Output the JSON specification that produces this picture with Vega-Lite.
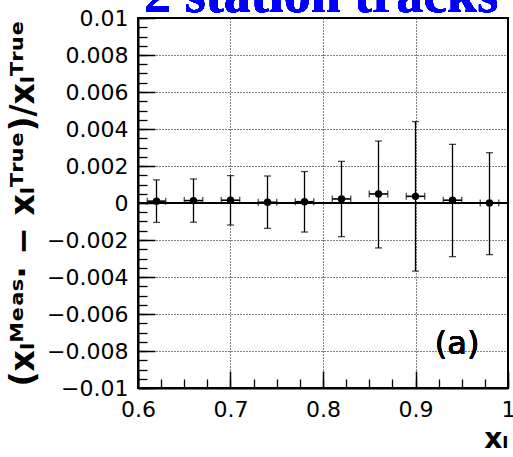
{
  "$schema": "https://vega.github.io/schema/vega-lite/v6.json",
  "width": 370,
  "height": 370,
  "autosize": "none",
  "padding": {"left": 138, "top": 18, "right": 5, "bottom": 69},
  "background": "white",
  "config": {
    "view": {"stroke": "black", "strokeWidth": 2},
    "axis": {"labelFont": "DejaVu Sans", "labelFontSize": 22, "labelColor": "black", "titleColor": "black", "tickColor": "black", "domainColor": "black"}
  },
  "data": {"values": [
    {"x": 0.62, "xlo": 0.61, "xhi": 0.63, "y": 0.0001, "lo": -0.00105, "hi": 0.00125},
    {"x": 0.66, "xlo": 0.65, "xhi": 0.67, "y": 0.00013, "lo": -0.00104, "hi": 0.0013},
    {"x": 0.70, "xlo": 0.69, "xhi": 0.71, "y": 0.00015, "lo": -0.00119, "hi": 0.00148},
    {"x": 0.74, "xlo": 0.73, "xhi": 0.75, "y": 0.00004, "lo": -0.00137, "hi": 0.00146},
    {"x": 0.78, "xlo": 0.77, "xhi": 0.79, "y": 0.00007, "lo": -0.00157, "hi": 0.0017},
    {"x": 0.82, "xlo": 0.81, "xhi": 0.83, "y": 0.00022, "lo": -0.00182, "hi": 0.00225},
    {"x": 0.86, "xlo": 0.85, "xhi": 0.87, "y": 0.00049, "lo": -0.00243, "hi": 0.00335},
    {"x": 0.90, "xlo": 0.89, "xhi": 0.91, "y": 0.00036, "lo": -0.00368, "hi": 0.0044},
    {"x": 0.94, "xlo": 0.93, "xhi": 0.95, "y": 0.00015, "lo": -0.0029, "hi": 0.00317},
    {"x": 0.98, "xlo": 0.97, "xhi": 0.99, "y": 0.0, "lo": -0.00279, "hi": 0.00272}
  ]},
  "layer": [
    {
      "mark": {"type": "rule", "color": "black", "strokeWidth": 1.3},
      "encoding": {
        "x": {"field": "x", "type": "quantitative", "scale": {"domain": [0.6, 1.0], "nice": false, "zero": false},
          "axis": {"orient": "bottom", "values": [0.6,0.625,0.65,0.675,0.7,0.725,0.75,0.775,0.8,0.825,0.85,0.875,0.9,0.925,0.95,0.975,1.0], "labels": false, "grid": false, "domain": false, "tickSize": -9, "tickWidth": 1.3, "title": null}},
        "y": {"field": "lo", "type": "quantitative", "scale": {"domain": [-0.01, 0.01], "nice": false, "zero": false},
          "axis": {"orient": "left", "values": [-0.01,-0.0095,-0.009,-0.0085,-0.008,-0.0075,-0.007,-0.0065,-0.006,-0.0055,-0.005,-0.0045,-0.004,-0.0035,-0.003,-0.0025,-0.002,-0.0015,-0.001,-0.0005,0,0.0005,0.001,0.0015,0.002,0.0025,0.003,0.0035,0.004,0.0045,0.005,0.0055,0.006,0.0065,0.007,0.0075,0.008,0.0085,0.009,0.0095,0.01], "labels": false, "grid": false, "domain": false, "tickSize": -9, "tickWidth": 1.3, "title": null}},
        "y2": {"field": "hi"}
      }
    },
    {
      "mark": {"type": "rule", "color": "black", "strokeWidth": 1.6},
      "encoding": {
        "x": {"field": "xlo", "type": "quantitative", "axis": null},
        "x2": {"field": "xhi"},
        "y": {"field": "y", "type": "quantitative", "axis": null}
      }
    },
    {
      "mark": {"type": "tick", "orient": "horizontal", "color": "black", "size": 7, "thickness": 1.3},
      "encoding": {
        "x": {"field": "x", "type": "quantitative", "axis": null},
        "y": {"field": "hi", "type": "quantitative", "axis": null}
      }
    },
    {
      "mark": {"type": "tick", "orient": "horizontal", "color": "black", "size": 7, "thickness": 1.3},
      "encoding": {
        "x": {"field": "x", "type": "quantitative", "axis": null},
        "y": {"field": "lo", "type": "quantitative", "axis": null}
      }
    },
    {
      "mark": {"type": "tick", "orient": "vertical", "color": "black", "size": 7, "thickness": 1.3},
      "encoding": {
        "x": {"field": "xlo", "type": "quantitative", "axis": null},
        "y": {"field": "y", "type": "quantitative", "axis": null}
      }
    },
    {
      "mark": {"type": "tick", "orient": "vertical", "color": "black", "size": 7, "thickness": 1.3},
      "encoding": {
        "x": {"field": "xhi", "type": "quantitative", "axis": null},
        "y": {"field": "y", "type": "quantitative", "axis": null}
      }
    },
    {
      "mark": {"type": "rule", "color": "black", "strokeWidth": 1.5},
      "encoding": {"y": {"datum": 0, "type": "quantitative", "axis": null}}
    },
    {
      "mark": {"type": "circle", "color": "black", "opacity": 1, "size": 55},
      "encoding": {
        "x": {"field": "x", "type": "quantitative",
          "axis": {"orient": "bottom", "values": [0.6, 0.7, 0.8, 0.9, 1.0], "format": "~g", "grid": true, "gridColor": "black", "gridDash": [1, 2], "gridOpacity": 1, "gridWidth": 1, "tickSize": -17, "tickWidth": 1.5, "domain": true, "domainWidth": 2, "labelPadding": 28, "labelFlush": false,
            "title": "xₗ", "titleFont": "DejaVu Sans", "titleFontSize": 28, "titleFontWeight": "bold", "titleAnchor": "end", "titleAlign": "right", "titlePadding": 5}},
        "y": {"field": "y", "type": "quantitative",
          "axis": {"orient": "left", "values": [-0.01,-0.008,-0.006,-0.004,-0.002,0,0.002,0.004,0.006,0.008,0.01], "format": "~g", "grid": true, "gridColor": "black", "gridDash": [1, 2], "gridOpacity": 1, "gridWidth": 1, "tickSize": -17, "tickWidth": 1.5, "domain": true, "domainWidth": 2, "labelPadding": 27, "labelFlush": false,
            "title": "(xₗᴹᵉᵃˢ· − xₗᵀʳᵘᵉ)/xₗᵀʳᵘᵉ", "titleFont": "DejaVu Sans", "titleFontSize": 33, "titleFontWeight": "bold", "titlePadding": 6}}
      }
    },
    {
      "mark": {"type": "text", "text": "(a)", "font": "DejaVu Sans", "fontSize": 32, "color": "black", "align": "center", "baseline": "middle"},
      "encoding": {
        "x": {"datum": 0.945, "type": "quantitative", "axis": null},
        "y": {"datum": -0.0076, "type": "quantitative", "axis": null}
      }
    },
    {
      "mark": {"type": "text", "text": "2 station tracks", "font": "Liberation Serif", "fontSize": 54, "fontWeight": "bold", "color": "#0000ff", "align": "center", "baseline": "alphabetic", "clip": false},
      "encoding": {
        "x": {"datum": 0.798, "type": "quantitative", "axis": null},
        "y": {"datum": 0.0103, "type": "quantitative", "axis": null}
      }
    }
  ],
  "resolve": {"axis": {"x": "independent", "y": "independent"}}
}
